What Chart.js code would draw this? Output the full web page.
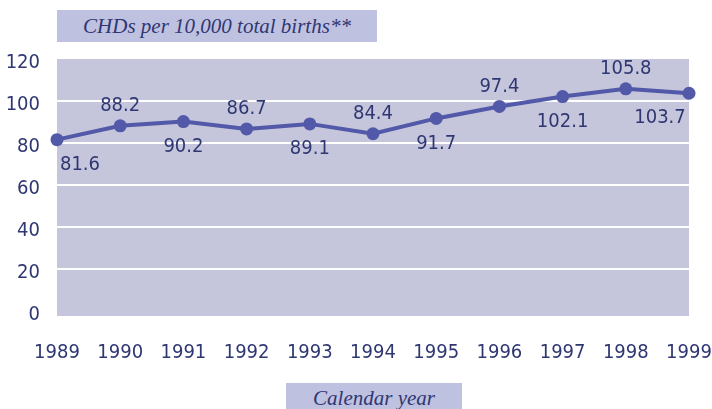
<!DOCTYPE html>
<html lang="en">
<head>
<meta charset="UTF-8" />
<title>CHDs per 10,000 total births</title>
<script src="https://cdn.jsdelivr.net/npm/chart.js"></script>
<style>
  html, body { margin: 0; padding: 0; background: #fff; }
  #wrap { position: relative; width: 712px; height: 409px; }
  canvas { position: absolute; left: 0; top: 0; }
  .box {
    position: absolute;
    background: #bfc1e0;
    color: #2f3772;
    font-family: "Liberation Serif", serif;
    font-style: italic;
    font-size: 21px;
    text-align: center;
  }
  #ytitle { left: 57px; top: 10px; width: 320px; height: 32px; line-height: 32px; }
  #xtitle { left: 286px; top: 383px; width: 176px; height: 26px; line-height: 30px; }
</style>
</head>
<body>
<div id="wrap">
  <canvas id="chart" width="712" height="409"></canvas>
  <div class="box" id="ytitle">CHDs per 10,000 total births**</div>
  <div class="box" id="xtitle">Calendar year</div>
</div>
<script>
const years = ["1989", "1990", "1991", "1992", "1993", "1994", "1995", "1996", "1997", "1998", "1999"];
const rates = [81.6, 88.2, 90.2, 86.7, 89.1, 84.4, 91.7, 97.4, 102.1, 105.8, 103.7];
// where each value label sits: above or below the point
const labelSide = ["below", "above", "below", "above", "below", "above", "below", "above", "below", "above", "below"];
const yTicks = [0, 20, 40, 60, 80, 100, 120];

const textColor = "#2f3772";
const lineColor = "#5159a8";
const fontFam = "'DejaVu Sans Condensed', 'DejaVu Sans', sans-serif";
const tickFont = { family: fontFam, size: 20 };

// lavender plot panel, a little deeper than the axis
const panelBg = {
  id: "panelBg",
  beforeDraw(chart) {
    const { ctx, chartArea: a } = chart;
    ctx.save();
    ctx.fillStyle = "#c5c5dc";
    ctx.fillRect(a.left, a.top, a.right - a.left, a.bottom - a.top + 5);
    ctx.restore();
  }
};

const valueLabels = {
  id: "valueLabels",
  afterDatasetsDraw(chart) {
    const { ctx } = chart;
    const pts = chart.getDatasetMeta(0).data;
    ctx.save();
    ctx.font = "20px " + fontFam;
    ctx.fillStyle = textColor;
    ctx.textAlign = "center";
    ctx.textBaseline = "middle";
    pts.forEach((p, i) => {
      let dx = 0;
      if (i === 0) dx = 23;
      if (i === pts.length - 1) dx = -29;
      const dy = labelSide[i] === "above" ? -20 : 25;
      ctx.fillText(rates[i].toFixed(1), p.x + dx, p.y + dy);
    });
    ctx.restore();
  }
};

new Chart(document.getElementById("chart"), {
  type: "line",
  data: {
    labels: years,
    datasets: [{
      data: rates,
      borderColor: lineColor,
      backgroundColor: lineColor,
      borderWidth: 4,
      pointRadius: 6.5,
      pointBackgroundColor: lineColor,
      pointBorderWidth: 0,
      tension: 0,
      clip: false
    }]
  },
  options: {
    responsive: false,
    animation: false,
    layout: { padding: { top: 59, right: 23, left: 0, bottom: 0 } },
    plugins: { legend: { display: false }, tooltip: { enabled: false } },
    scales: {
      x: {
        offset: false,
        grid: { display: false, drawTicks: false },
        border: { display: false },
        ticks: { color: textColor, font: tickFont, padding: 30, maxRotation: 0, autoSkip: false },
        afterFit(s) { s.height = 98; s.paddingLeft = 0; s.paddingRight = 0; }
      },
      y: {
        min: 0,
        max: 120,
        afterBuildTicks(s) { s.ticks = yTicks.map(v => ({ value: v })); },
        grid: {
          drawTicks: false,
          lineWidth: 2,
          color: ctx => (ctx.tick.value === 0 || ctx.tick.value === 120) ? "rgba(0,0,0,0)" : "#ffffff"
        },
        border: { display: false },
        ticks: { color: textColor, font: tickFont, padding: 17, labelOffset: 4 },
        afterFit(s) { s.width = 57; s.paddingTop = 0; s.paddingBottom = 0; }
      }
    }
  },
  plugins: [panelBg, valueLabels]
});
</script>
</body>
</html>
